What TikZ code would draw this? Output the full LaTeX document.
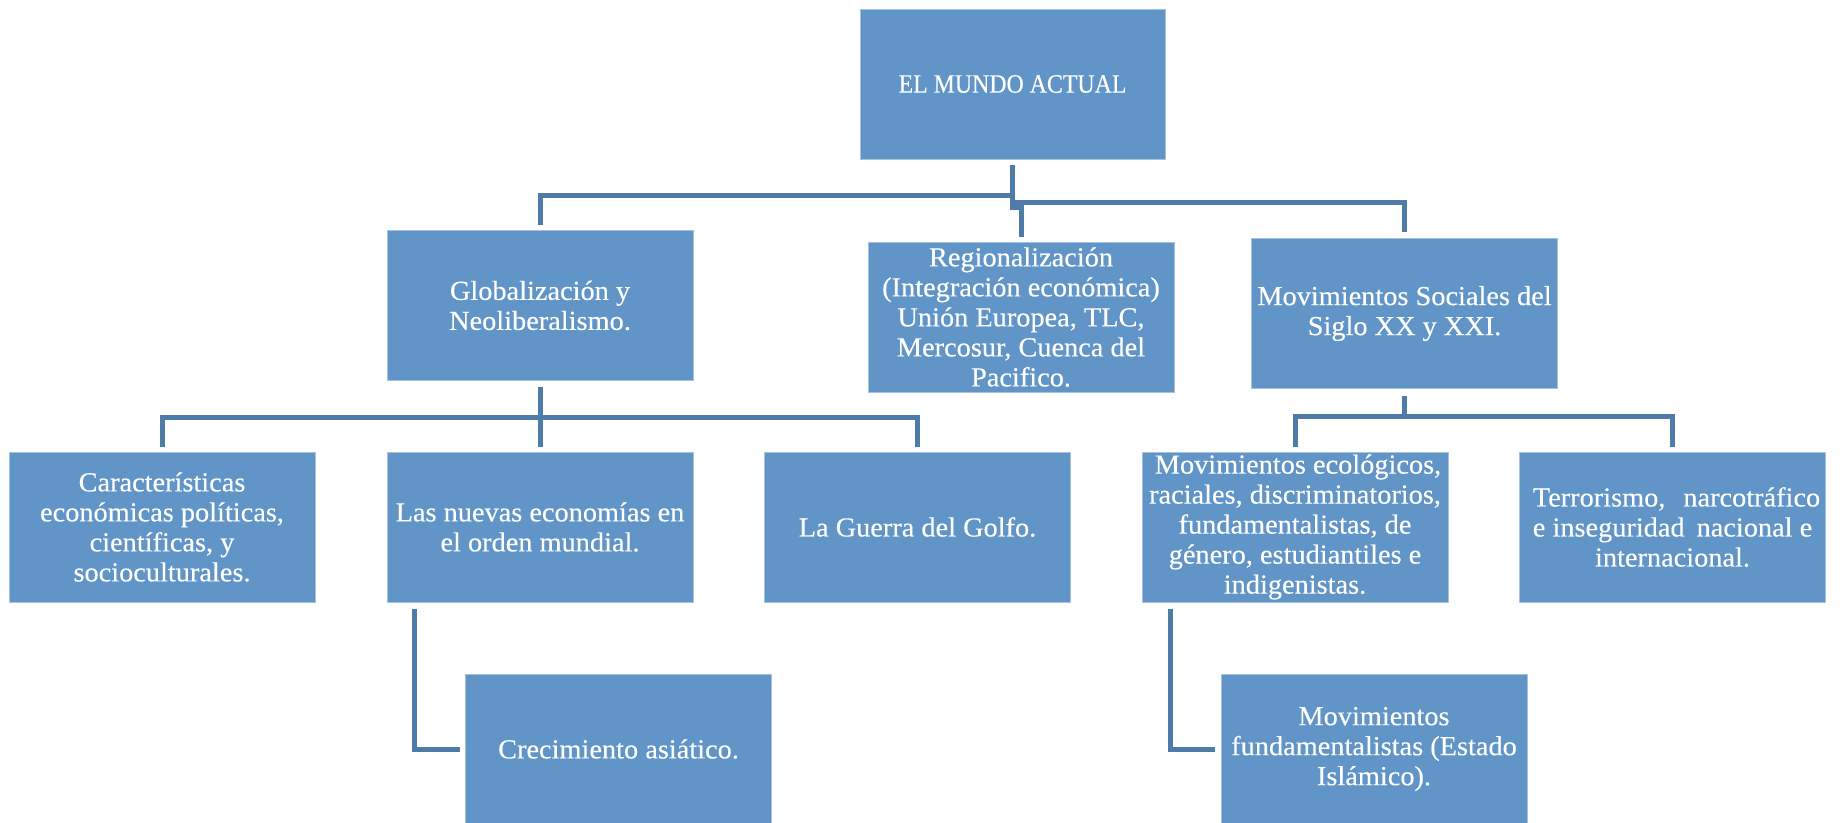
\documentclass[tikz,border=0pt]{standalone}
\usepackage{fontspec}
\setmainfont[FakeStretch=1.03,FakeBold=0.3]{Liberation Serif}
\newfontfamily\capserif[FakeStretch=0.9,FakeBold=0.3]{Liberation Serif}
\usetikzlibrary{calc}
\definecolor{boxfill}{RGB}{97,149,200}
\definecolor{linecol}{RGB}{79,123,168}
\definecolor{boxedge}{RGB}{165,195,225}
\tikzset{
  box/.style={rectangle, fill=boxfill, draw=boxedge, line width=0.8pt,
    minimum width=306pt, minimum height=150pt, inner sep=0pt,
    text=white, align=center, font=\fontsize{27.5}{30}\selectfont},
  conn/.style={draw=linecol, line width=5pt},
}
\begin{document}
\begin{tikzpicture}[x=1pt,y=-1pt]
\useasboundingbox (0,0) rectangle (1844,822);

\node[box, minimum width=305pt] (top) at (1012.5,84) {\capserif\fontsize{26.5}{30}\selectfont EL MUNDO ACTUAL};
\node[box] (glob) at (540,305.5) {Globalización y\\Neoliberalismo.};
\node[box] (reg) at (1021,317) {Regionalización\\(Integración económica)\\Unión Europea, TLC,\\Mercosur, Cuenca del\\Pacifico.};
\node[box] (movsoc) at (1404.5,313.5) {Movimientos Sociales del\\Siglo XX y XXI.};

\node[box] (car) at (162,527) {Características\\económicas políticas,\\científicas, y\\socioculturales.};
\node[box] (nuevas) at (540,527) {Las nuevas economías en\\el orden mundial.};
\node[box] (guerra) at (917.5,527) {La Guerra del Golfo.};
\node[box] (movec) at (1295,527) {\hspace{6pt}Movimientos ecológicos,\\raciales, discriminatorios,\\fundamentalistas, de\\género, estudiantiles e\\indigenistas.};
\node[box] (terr) at (1672.5,527) {\hspace{8pt}Terrorismo,\hspace{18pt}narcotráfico\\e inseguridad\hspace{12pt}nacional e\\internacional.};

\node[box] (crec) at (618.5,749) {Crecimiento asiático.};
\node[box] (movfund) at (1374,749) {Movimientos\\fundamentalistas (Estado\\Islámico).};

% connectors from top
\draw[conn] ($(top.south)+(0,6)$) |- ($(glob.north)+(0,-35)$) -- ($(glob.north)+(0,-5)$);
\draw[conn] ($(top.south)+(0,6)$) -- ($(top.south)+(0,48)$) -| ($(reg.north)+(0,-5)$);
\draw[conn] ($(top.south)+(0,6)$) |- ($(movsoc.north)+(0,-36)$) -- ($(movsoc.north)+(0,-6)$);

% connectors from glob
\draw[conn] ($(glob.south)+(0,6)$) |- ($(car.north)+(0,-34)$) -- ($(car.north)+(0,-5)$);
\draw[conn] ($(glob.south)+(0,6)$) -- ($(nuevas.north)+(0,-5)$);
\draw[conn] ($(glob.south)+(0,6)$) |- ($(guerra.north)+(0,-34)$) -- ($(guerra.north)+(0,-5)$);

% connectors from movsoc
\draw[conn] ($(movsoc.south)+(0,7)$) |- ($(movec.north)+(0,-35)$) -- ($(movec.north)+(0,-5)$);
\draw[conn] ($(movsoc.south)+(0,7)$) |- ($(terr.north)+(0,-35)$) -- ($(terr.north)+(0,-5)$);

% side connectors
\draw[conn] ($(nuevas.south west)+(28,7)$) |- ($(crec.west)+(-5,0)$);
\draw[conn] ($(movec.south west)+(29,7)$) |- ($(movfund.west)+(-6,0)$);
\end{tikzpicture}
\end{document}
